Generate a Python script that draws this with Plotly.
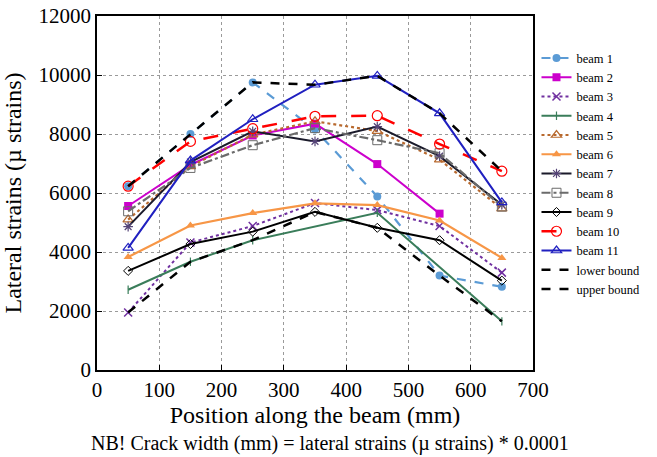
import plotly.graph_objects as go

positions = [50, 150, 250, 350, 450, 550, 650]

beam1 = [6230, 8000, 9750, 8150, 5880, 3200, 2820]
beam2 = [5560, 6950, 7950, 8350, 6980, 5300, None]
beam3 = [1950, 4320, 4880, 5660, 5420, 4880, 3300]
beam4 = [2720, 3670, 4400, None, 5330, None, 1650]
beam5 = [5100, 6900, 7980, 8430, 8100, 7130, 5470]
beam6 = [3830, 4900, 5320, 5650, 5590, 5070, 3800]
beam7 = [4860, 7050, 8090, 7750, 8250, 7250, 5600]
beam8 = [5380, 6850, 7620, 8200, 7790, 7350, 5540]
beam9 = [3360, 4270, 4690, 5360, 4820, 4400, 3030]
beam10 = [6230, 7750, 8180, 8600, 8620, 7660, 6740]
beam11 = [4140, 7100, 8500, 9670, 9970, 8700, 5680]
lower_bound = [1950, 3670, 4400, 5360, 4820, 3200, 1650]
upper_bound = [6230, 8000, 9750, 9670, 9970, 8700, 6740]

series = [
    ("beam 1", beam1, dict(color="#5B9BD5", width=2.2, dash="dash"), dict(symbol="circle", size=8, color="#5B9BD5")),
    ("beam 2", beam2, dict(color="#CC00CC", width=2), dict(symbol="square", size=8, color="#CC00CC")),
    ("beam 3", beam3, dict(color="#7030A0", width=2, dash="dot"), dict(symbol="x-thin", size=8, color="#7030A0", line=dict(color="#7030A0", width=1.5))),
    ("beam 4", beam4, dict(color="#3A7D5A", width=2), dict(symbol="line-ns", size=6, color="#3A7D5A", line=dict(color="#3A7D5A", width=1.2))),
    ("beam 5", beam5, dict(color="#B8692E", width=2.2, dash="dot"), dict(symbol="triangle-up-open", size=9, color="#B8692E", line=dict(width=1.2))),
    ("beam 6", beam6, dict(color="#F79646", width=2.2), dict(symbol="triangle-up", size=8, color="#F79646")),
    ("beam 7", beam7, dict(color="#1a1a2a", width=2), dict(symbol="asterisk", size=8, color="#554477", line=dict(color="#554477", width=1.2))),
    ("beam 8", beam8, dict(color="#6b6b6b", width=2.2, dash="dashdot"), dict(symbol="square-open", size=9, color="#6b6b6b", line=dict(width=1))),
    ("beam 9", beam9, dict(color="#000000", width=2), dict(symbol="diamond-open", size=7, color="#000000", line=dict(width=1))),
    ("beam 10", beam10, dict(color="#FF0000", width=2.5, dash="longdash"), dict(symbol="circle-open", size=10, color="#FF0000", line=dict(width=1.2))),
    ("beam 11", beam11, dict(color="#2020C0", width=2), dict(symbol="triangle-up-open", size=9, color="#2020C0", line=dict(width=1.2))),
]

fig = go.Figure()
for name, vals, line, marker in series:
    fig.add_trace(go.Scatter(x=positions, y=vals, name=name, mode="lines+markers",
                             line=line, marker=marker, connectgaps=True))
fig.add_trace(go.Scatter(x=positions, y=lower_bound, name="lower bound", mode="lines",
                         line=dict(color="black", width=2.5, dash="dash")))
fig.add_trace(go.Scatter(x=positions, y=upper_bound, name="upper bound", mode="lines",
                         line=dict(color="black", width=2.5, dash="dash")))

serif = "Liberation Serif, Times New Roman, serif"
axis_common = dict(showline=True, linecolor="black", linewidth=1.5, mirror=True,
                   showgrid=True, gridcolor="#9a9a9a", griddash="dot", gridwidth=1,
                   zeroline=False, ticks="inside", ticklen=5, tickcolor="black",
                   automargin=False, tickformat="d", ticklabeloverflow="allow",
                   tickfont=dict(family=serif, size=21, color="black"))

fig.update_xaxes(range=[0, 700], dtick=100,
                 title=dict(text="Position along the beam (mm)", font=dict(family=serif, size=24, color="black"), standoff=2),
                 **axis_common)
fig.update_yaxes(range=[0, 12000], dtick=2000,
                 title=dict(text="Lateral strains (µ strains)", font=dict(family=serif, size=24, color="black"), standoff=10),
                 **axis_common)

fig.add_annotation(text="NB! Crack width (mm) = lateral strains (µ strains) * 0.0001",
                   xref="paper", yref="paper", x=0.534, y=(370 - 443) / 354, xanchor="center", yanchor="middle",
                   showarrow=False, font=dict(family=serif, size=20, color="black"))

fig.update_layout(
    width=657, height=457,
    margin=dict(l=97, r=114, t=16, b=87),
    paper_bgcolor="white", plot_bgcolor="white",
    font=dict(family=serif, color="black"),
    legend=dict(x=1.008, y=0.554, xanchor="left", yanchor="middle",
                font=dict(family=serif, size=12.5, color="black"),
                itemwidth=30, tracegroupgap=0, bgcolor="rgba(0,0,0,0)"),
    showlegend=True,
)

fig.write_html("out.html", config={"displayModeBar": False},
               post_script="document.body.style.margin='0';document.body.style.overflow='hidden';")
